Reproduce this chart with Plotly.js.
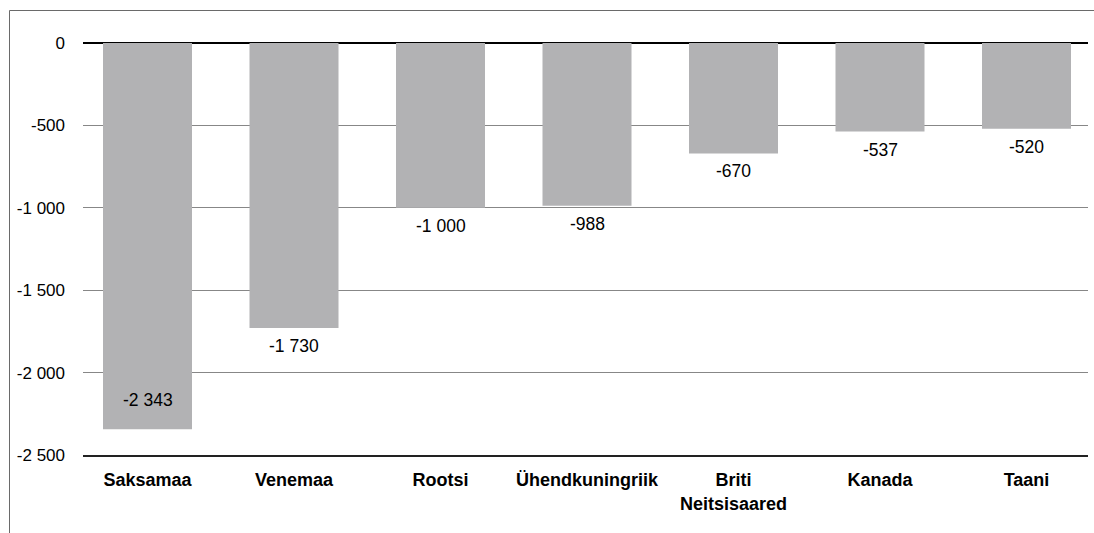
<!DOCTYPE html>
<html>
<head>
<meta charset="utf-8">
<script src="https://cdn.plot.ly/plotly-3.0.1.min.js"></script>
<style>html,body{margin:0;padding:0;background:#fff;}#chart{width:1094px;height:533px;}</style>
</head>
<body>
<div id="chart"></div>
<script>
const categories = ['Saksamaa', 'Venemaa', 'Rootsi', 'Ühendkuningriik', 'Briti<br>Neitsisaared', 'Kanada', 'Taani'];
const values = [-2343, -1730, -1000, -988, -670, -537, -520];
const valueLabels = ['-2 343', '-1 730', '-1 000', '-988', '-670', '-537', '-520'];
const yTickVals = [0, -500, -1000, -1500, -2000, -2500];
const yTickText = ['0', '-500', '-1 000', '-1 500', '-2 000', '-2 500'];

const xIdx = categories.map((c, i) => i);

const trace = {
  type: 'bar',
  x: xIdx,
  y: values,
  marker: {color: '#b2b2b4'},
  width: 0.6075,
  hoverinfo: 'none'
};

const annotations = values.map((v, i) => ({
  x: i, y: v, xref: 'x', yref: 'y',
  text: valueLabels[i],
  showarrow: false,
  yshift: v < -2200 ? 29 : -18,
  font: {family: 'Liberation Sans, Arial, sans-serif', size: 17.5, color: '#000'}
}));

const W = 1005, H = 412, L = 83, T = 43;
const px = p => (p - L) / W;
const py = p => (T + H - p) / H;

const layout = {
  width: 1094, height: 533,
  margin: {l: 83, r: 6, t: 43, b: 78},
  paper_bgcolor: '#fff', plot_bgcolor: '#fff',
  showlegend: false,
  font: {family: 'Liberation Sans, Arial, sans-serif', size: 17, color: '#000'},
  xaxis: {
    range: [-0.4403, 6.4198],
    tickvals: xIdx,
    ticktext: categories,
    tickfont: {size: 18, color: '#000', weight: 'bold'},
    ticklabelstandoff: 8,
    showgrid: false, zeroline: false,
    showline: true, linecolor: '#222', linewidth: 1.5,
    ticks: '', fixedrange: true
  },
  yaxis: {
    range: [-2500, 0],
    tickvals: yTickVals,
    ticktext: yTickText,
    showgrid: true, gridcolor: '#878787', gridwidth: 1,
    zeroline: true, zerolinecolor: '#000', zerolinewidth: 2,
    showline: false, ticks: '',
    ticklabelstandoff: 17,
    tickfont: {size: 17, color: '#000'},
    fixedrange: true
  },
  annotations: annotations,
  shapes: [
    {type: 'line', xref: 'paper', yref: 'paper', x0: px(9.5), x1: px(9.5), y0: py(533), y1: py(10.5),
     line: {color: '#6a6a6a', width: 1}, layer: 'above'},
    {type: 'line', xref: 'paper', yref: 'paper', x0: px(9.5), x1: px(1094), y0: py(10.5), y1: py(10.5),
     line: {color: '#6a6a6a', width: 1}, layer: 'above'}
  ]
};

Plotly.newPlot('chart', [trace], layout, {staticPlot: true, displayModeBar: false});
</script>
</body>
</html>
